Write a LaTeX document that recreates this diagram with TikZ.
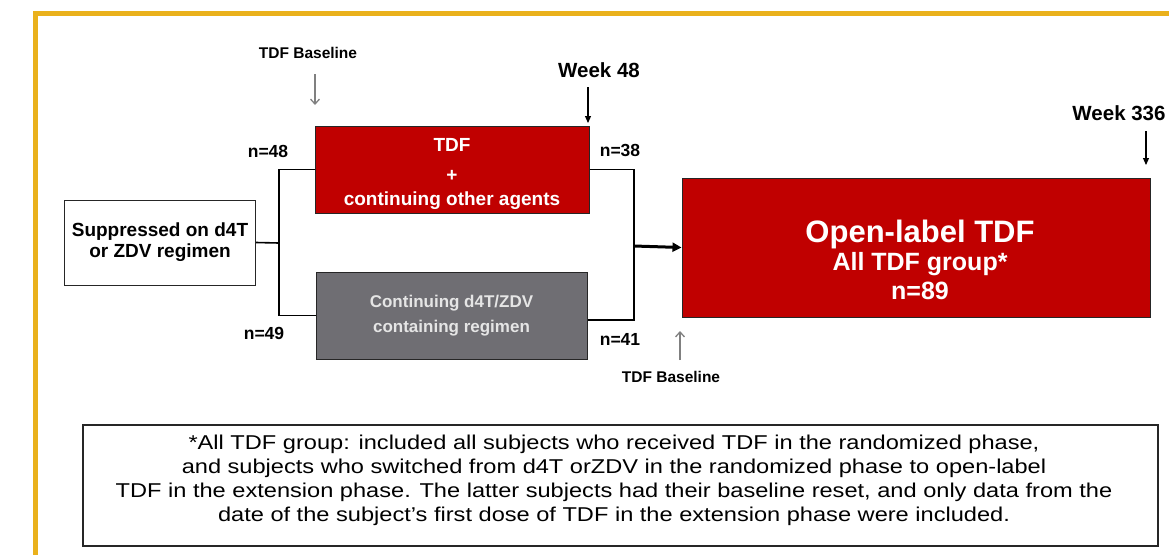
\documentclass[tikz,border=0pt]{standalone}
\usepackage{fontspec}
\setmainfont{Liberation Sans}
\newfontfamily\notefont[FakeStretch=1.18]{Liberation Sans}
\usetikzlibrary{arrows.meta}
\definecolor{boxred}{RGB}{192,0,0}
\definecolor{boxgray}{RGB}{111,110,115}
\definecolor{framegold}{RGB}{234,177,28}
\newcommand{\fsz}[2]{\fontsize{#1}{#2}\selectfont}

\begin{document}
\begin{tikzpicture}[x=1pt, y=-1pt,
   box/.style={draw=black!85, line width=1pt, inner sep=0pt, align=center},
   intext/.style={align=center, inner sep=0pt},
   nlab/.style={font=\bfseries\fsz{17.5}{20}},
   wk/.style={font=\bfseries\fsz{20.5}{23}},
   base/.style={font=\bfseries\fsz{15.5}{18}},
   tick/.style={-{Triangle[length=7pt,width=6pt]}, line width=1.1pt},
   greytick/.style={-{Straight Barb[length=5pt,width=9pt]}, line width=1.3pt, black!50},
   conn/.style={line width=1.6pt}]
   \useasboundingbox (0,0) rectangle (1169,555);
   \draw[framegold, line width=5pt] (33,13.5) -- (1169,13.5);
   \draw[framegold, line width=5pt] (35.5,11) -- (35.5,555);

   \node[box, fill=white, minimum width=191pt, minimum height=85pt,
         font=\bfseries\fsz{19}{21}] (supp) at (160,242.5) {Suppressed on d4T\\or ZDV regimen};
   \node[box, fill=boxred, minimum width=274pt, minimum height=87pt] (tdf) at (452,169.5) {};
   \node[intext, text=white, font=\bfseries\fsz{19}{24}] (tdftext) at (452,174) {TDF\\[6pt]+\\continuing other agents};
   \node[box, fill=boxgray, text=white!90!black, minimum width=271pt, minimum height=87pt,
         font=\bfseries\fsz{17}{25}] (cont) at (451.5,315.5) {Continuing d4T/ZDV\\containing regimen};
   \node[box, fill=boxred, minimum width=468pt, minimum height=139pt] (ol) at (916,247.5) {};
   \node[text=white, anchor=base, font=\bfseries\fsz{31}{33}] (oltitle) at (920,242) {Open-label TDF};
   \node[text=white, anchor=base, font=\bfseries\fsz{25}{28}] (olgroup) at (920,270.5) {All TDF group*};
   \node[text=white, anchor=base, font=\bfseries\fsz{25}{28}] (oln) at (920,299) {n=89};

   \foreach \x/\y/\t in {268/151/48, 620/150/38, 264/333/49, 620/339/41}
     \node[nlab] (n\t) at (\x,\y) {n=\t};

   \node[base] (basetop) at (308,53) {TDF Baseline};
   \node[base] (basebot) at (671,377) {TDF Baseline};
   \node[wk] (wk48) at (599,70) {Week 48};
   \node[wk] (wk336) at (1119,113) {Week 336};

   \coordinate (jl) at (279,243);
   \coordinate (jr) at (634,246);
   \draw[conn] (supp.east) -- (jl);
   \draw[conn] (tdf.west) -| (jl) |- (cont.west);
   \draw[conn] (tdf.east) -| (jr) |- ([yshift=-4.5pt]cont.east);
   \draw[line width=3pt, -{Triangle[length=9pt,width=9pt]}] (jr) -- (ol.west);

   \coordinate (bt1) at (315,74);
   \coordinate (bt2) at (315,105);
   \coordinate (bb1) at (680,360);
   \coordinate (bb2) at (680,331);
   \coordinate (w1) at (588,87);
   \coordinate (w2) at (588,123);
   \coordinate (v1) at (1146,131);
   \coordinate (v2) at (1146,165);
   \draw[greytick] (bt1) -- (bt2);
   \draw[greytick] (bb1) -- (bb2);
   \draw[tick] (w1) -- (w2);
   \draw[tick] (v1) -- (v2);

   \node[draw=black!85, line width=1.5pt, minimum width=1075pt, minimum height=121pt] (note) at (620.5,485.5) {};
   \node[align=center, font=\notefont\fsz{20}{24}] (notetext) at (614,480) {*All TDF group: included all subjects who received TDF in the randomized phase,\\
     and subjects who switched from d4T orZDV in the randomized phase to open-label\\
     TDF in the extension phase. The latter subjects had their baseline reset, and only data from the\\
     date of the subject’s first dose of TDF in the extension phase were included.};
\end{tikzpicture}
\end{document}
